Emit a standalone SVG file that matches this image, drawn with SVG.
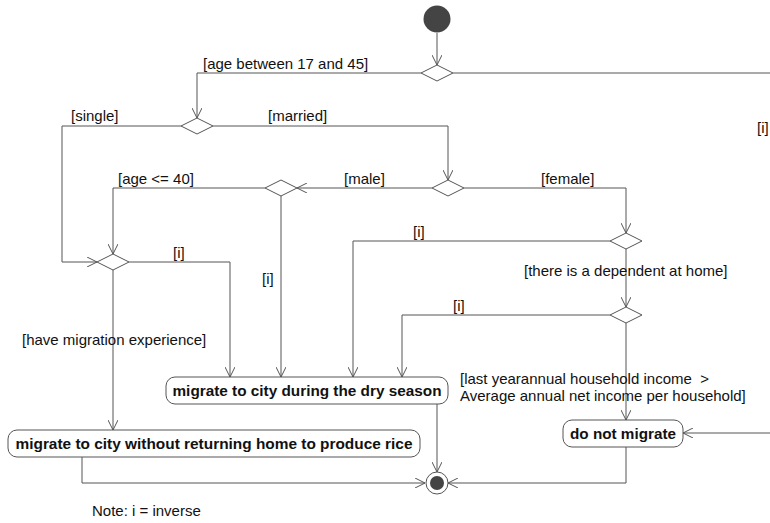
<svg xmlns="http://www.w3.org/2000/svg" width="770" height="523" viewBox="0 0 770 523">
<style>
.bg{fill:#fff}
.ln{fill:none;stroke:#555;stroke-width:1;marker-end:url(#arr)}
.dm{fill:#fff;stroke:#555;stroke-width:1}
.act{fill:#fff;stroke:#555;stroke-width:1}
.lbl{font-family:"Liberation Sans",Arial,sans-serif;font-size:15px;fill:#111}
.at{font-family:"Liberation Sans",Arial,sans-serif;font-size:15.5px;font-weight:bold;fill:#111;text-anchor:middle}
.solid{fill:#444}
</style>
<defs>
<marker id="arr" viewBox="0 0 10 10" refX="10" refY="5" markerWidth="10" markerHeight="10" markerUnits="userSpaceOnUse" orient="auto">
<path d="M0,0 L10,5 L0,10" fill="none" stroke="#555" stroke-width="1"/>
</marker>
</defs>
<rect class="bg" x="0" y="0" width="770" height="523"/>
<g id="connectors">
<path class="ln" d="M437 33 V65"/>
<path class="ln" d="M421 73 H197 V118"/>
<path class="ln" d="M181 126 H62 V262 H97"/>
<path class="ln" d="M213 126 H448 V180"/>
<path class="ln" d="M432 188 H297"/>
<path class="ln" d="M464 188 H626 V233"/>
<path class="ln" d="M265 188 H113 V254"/>
<path class="ln" d="M281 196 V377"/>
<path class="ln" d="M129 262 H230 V377"/>
<path class="ln" d="M113 270 V430"/>
<path class="ln" d="M610 241 H353 V377"/>
<path class="ln" d="M626 249 V307"/>
<path class="ln" d="M610 315 H402 V377"/>
<path class="ln" d="M626 323 V420"/>
<path class="ln" d="M453 73 H776 V433 H683"/>
<path class="ln" d="M82 457 V483 H425"/>
<path class="ln" d="M437 404 V472"/>
<path class="ln" d="M626 447 V483 H448"/>
<text class="lbl" x="203" y="69">[age between 17 and 45]</text>
<text class="lbl" x="71" y="121">[single]</text>
<text class="lbl" x="268" y="121">[married]</text>
<text class="lbl" x="118" y="184">[age &lt;= 40]</text>
<text class="lbl" x="344" y="184">[male]</text>
<text class="lbl" x="541" y="184">[female]</text>
<text class="lbl" x="173" y="258">[i]</text>
<text class="lbl" x="262" y="284">[i]</text>
<text class="lbl" x="413" y="237">[i]</text>
<text class="lbl" x="524" y="276">[there is a dependent at home]</text>
<text class="lbl" x="453" y="311">[i]</text>
<text class="lbl" x="22" y="345">[have migration experience]</text>
<text class="lbl" x="460" y="384" xml:space="preserve">[last yearannual household income  &gt;</text>
<text class="lbl" x="460" y="401">Average annual net income per household]</text>
<text class="lbl" x="757" y="133">[i]</text>
</g>
<g id="start"><circle class="solid" cx="437" cy="19" r="13.5"/></g>
<g id="d1"><polygon class="dm" points="421,73 437,65 453,73 437,81"/></g>
<g id="d2"><polygon class="dm" points="181,126 197,118 213,126 197,134"/></g>
<g id="d3"><polygon class="dm" points="97,262 113,254 129,262 113,270"/></g>
<g id="d4"><polygon class="dm" points="432,188 448,180 464,188 448,196"/></g>
<g id="d5"><polygon class="dm" points="265,188 281,180 297,188 281,196"/></g>
<g id="d6"><polygon class="dm" points="610,241 626,233 642,241 626,249"/></g>
<g id="d7"><polygon class="dm" points="610,315 626,307 642,315 626,323"/></g>
<g id="dry">
<rect class="act" x="166" y="377" width="282" height="27" rx="9"/>
<text class="at" x="307" y="396" textLength="269" lengthAdjust="spacingAndGlyphs">migrate to city during the dry season</text>
</g>
<g id="norice">
<rect class="act" x="8" y="430" width="412" height="27" rx="9"/>
<text class="at" x="214" y="449" textLength="397" lengthAdjust="spacingAndGlyphs">migrate to city without returning home to produce rice</text>
</g>
<g id="donot">
<rect class="act" x="563" y="420" width="120" height="27" rx="9"/>
<text class="at" x="623" y="439" textLength="106" lengthAdjust="spacingAndGlyphs">do not migrate</text>
</g>
<g id="end">
<circle cx="437" cy="483" r="11" fill="#fff" stroke="#555" stroke-width="1"/>
<circle class="solid" cx="437" cy="483" r="7"/>
</g>
<text class="lbl" x="92" y="516">Note: i = inverse</text>
</svg>
